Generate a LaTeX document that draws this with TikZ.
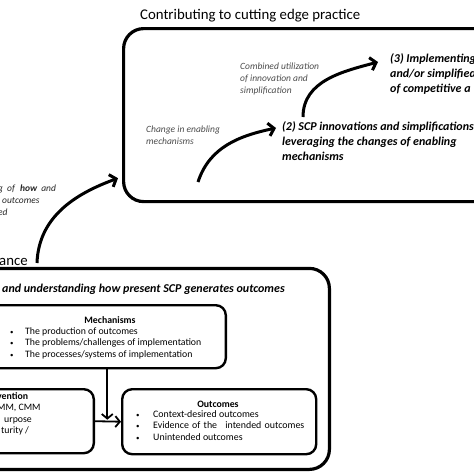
\documentclass[tikz,border=0pt]{standalone}
\usepackage{fontspec}
\setmainfont{Carlito}
\usetikzlibrary{arrows.meta}

\tikzset{
  bigbox/.style={draw, line width=3.2pt, rounded corners=20pt, inner sep=0pt},
  smallbox/.style={draw, line width=2.4pt, rounded corners=10pt, inner sep=0pt},
  stage/.style={font=\fontsize{12}{15}\selectfont\bfseries\itshape, align=left, anchor=north west, inner sep=0pt},
  remark/.style={font=\fontsize{9.5}{11.7}\selectfont\itshape, text=black!70, align=left, anchor=north west, inner sep=0pt},
  heading/.style={font=\fontsize{14.8}{16}\selectfont, inner sep=0pt, anchor=base west},
  boxtext/.style={font=\fontsize{9.8}{11.6}\selectfont, align=left, anchor=north west, inner sep=0pt},
  boxtitle/.style={font=\fontsize{9.8}{11.6}\selectfont\bfseries, inner sep=0pt, anchor=base},
  bigarrow/.style={line width=3pt, -{Straight Barb[length=5.5pt,width=13pt]}},
  thinarrow/.style={line width=1.8pt, -{Straight Barb[length=4.5pt,width=11pt]}},
}
\newcommand{\bul}{\makebox[15pt][l]{\scalebox{0.7}{\textbullet}}}
\newcommand{\obul}{\makebox[17pt][l]{\scalebox{0.7}{\textbullet}}}

\begin{document}
\begin{tikzpicture}[x=1pt,y=-1pt]
\useasboundingbox (0,0) rectangle (474,474);
\clip (0,0) rectangle (474,474);

% upper part
\node [heading] (cuttitle) at (140,19) {Contributing to cutting edge practice};
\node [bigbox, minimum width=500pt, minimum height=173pt, anchor=north west] (practice) at (122,27) {};
\node [stage] (step3) at (390,53) {(3) Implementing\\and/or simplified\\of competitive a};
\node [stage] (step2) at (282,121) {(2) SCP innovations and simplifications\\leveraging the changes of enabling\\mechanisms};
\node [remark] (combined) at (240,63) {Combined utilization\\of innovation and\\simplification};
\node [remark] (enabling) at (146,126) {Change in enabling\\mechanisms};

% lower part
\node [remark, text=black!85] (howwhy) at (-2,185) {g\hspace{2pt} of\hspace{3pt} \textbf{how}\hspace{2pt} and\\\hspace{4pt}outcomes\\ed};
\node [heading] (perftitle) at (-1,265) {ance};
\node [bigbox, minimum width=520pt, minimum height=201pt, anchor=south east] (present) at (331,471) {};
\node [stage, anchor=base west] (step1) at (2,292) {and understanding how present SCP generates outcomes};

\node [smallbox, minimum width=237pt, minimum height=63pt, anchor=north east] (mech) at (227,304) {};
\node [boxtitle] (mechtitle) at (110,323) {Mechanisms};
\node [boxtext] (mechlist) at (10,327) {\bul The production of outcomes\\\bul The problems/challenges of implementation\\\bul The processes/systems of implementation};

\node [smallbox, minimum width=200pt, minimum height=64pt, anchor=north east] (interv) at (95,388) {};
\node [boxtext] (intervtext) at (-3,392) {\textbf{vention}\\MM, CMM\\\hspace{7pt}urpose\\\hspace{4pt}turity /};

\node [smallbox, minimum width=194pt, minimum height=65pt, anchor=north west] (outc) at (121,388) {};
\node [boxtitle] (outctitle) at (218,407) {Outcomes};
\node [boxtext, font=\fontsize{9.9}{11.8}\selectfont] (outclist) at (136,410) {\obul Context-desired outcomes\\\obul Evidence\hspace{1pt} of\hspace{1pt} the\hspace{6pt} intended\hspace{1pt} outcomes\\\obul Unintended outcomes};

% connectors
\coordinate (fromnow) at (37,263);
\coordinate (tocut) at ([shift={(-4,-25)}]practice.south west);
\coordinate (lift2) at ([shift={(-84,61)}]step2.north west);
\coordinate (into2) at ([shift={(-6,7)}]step2.north west);
\coordinate (lift3) at ([shift={(21,-4)}]step2.north west);
\coordinate (into3) at ([shift={(-12,9)}]step3.north west);

\draw [bigarrow] (fromnow) to[out=88,in=200] (tocut);
\draw [bigarrow] (lift2) to[out=72,in=192] (into2);
\draw [bigarrow] (lift3) to[out=90,in=195] (into3);
\draw [thinarrow, shorten >=2pt] (mech.south) -- (mech.south |- outc.west);
\draw [thinarrow] (interv.east) -- (outc.west);
\end{tikzpicture}
\end{document}
